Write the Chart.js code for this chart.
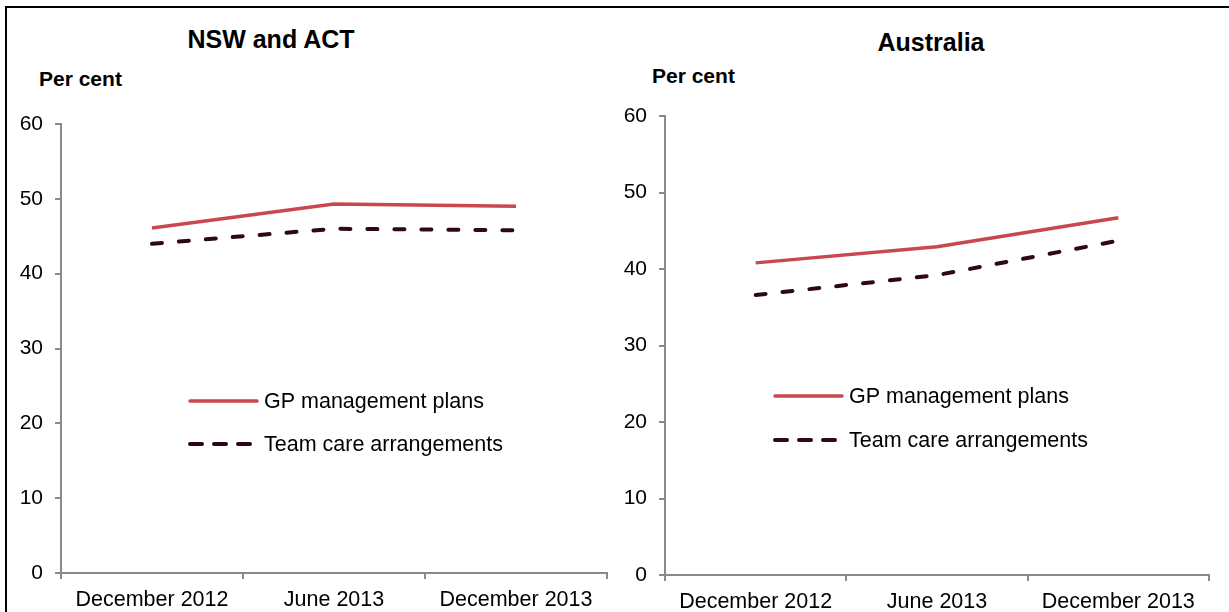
<!DOCTYPE html>
<html lang="en">
<head>
	<title>GP management plans and team care arrangements</title>
	<meta charset="utf-8">
	<script src="https://cdn.jsdelivr.net/npm/chart.js@4/dist/chart.umd.min.js"></script>
	<style type="text/css">
		html, body {
			margin: 0;
			padding: 0;
			background: #fff;
			overflow: hidden;
		}
		#page {
			position: relative;
			width: 1229px;
			height: 612px;
			font-family: "Liberation Sans", Arial, sans-serif;
		}
		#frame {
			position: absolute;
			left: 5px;
			top: 6px;
			width: 1240px;
			height: 620px;
			border-left: 2px solid #000;
			border-top: 2px solid #000;
		}
		canvas {
			position: absolute;
			top: 0;
		}
		.chart-title {
			position: absolute;
			font-weight: bold;
			font-size: 25px;
			line-height: 25px;
			white-space: nowrap;
			transform: translateX(-50%);
		}
		.unit {
			position: absolute;
			font-weight: bold;
			font-size: 21px;
			line-height: 21px;
			white-space: nowrap;
		}
	</style>
</head>
<body>
<div id="page">
	<div id="frame"></div>
	<div class="chart-title" style="left:271px; top:27px;">NSW and ACT</div>
	<div class="chart-title" style="left:931px; top:30px;">Australia</div>
	<div class="unit" style="left:39px; top:68px;">Per cent</div>
	<div class="unit" style="left:652px; top:65px;">Per cent</div>
	<canvas id="nsw-canvas" width="614" height="612" style="left:0px;"></canvas>
	<canvas id="aus-canvas" width="615" height="612" style="left:614px;"></canvas>
</div>
<script type="text/javascript">
	// survey periods
	var periods = ["December 2012", "June 2013", "December 2013"];
	var seriesNames = ["GP management plans", "Team care arrangements"];

	// per cent of patients, NSW and ACT
	var nswGpPlans = [46.1, 49.3, 49.0];
	var nswTeamCare = [44.0, 46.0, 45.8];

	// per cent of patients, Australia
	var ausGpPlans = [40.8, 42.9, 46.7];
	var ausTeamCare = [36.6, 39.2, 43.7];

	var yTicks = [0, 10, 20, 30, 40, 50, 60];

	var axisGrey = "#8a8a8a";
	var font = "'Liberation Sans', Arial, sans-serif";

	// legend drawn inside the plot area, under the lines
	var innerLegend = {
		id: "innerLegend",
		afterDatasetsDraw: function(chart, args, opts) {
			var ctx = chart.ctx;
			var area = chart.chartArea;
			chart.data.datasets.forEach(function(ds, i) {
				var x = area.left + opts.x;
				var y = area.top + opts.y + i * opts.rowGap;
				ctx.save();
				ctx.strokeStyle = ds.borderColor;
				ctx.lineWidth = ds.borderWidth;
				ctx.lineCap = "round";
				ctx.setLineDash(ds.borderDash ? [12, 12] : []);
				ctx.beginPath();
				ctx.moveTo(x + 2, y);
				ctx.lineTo(x + opts.lineLength, y);
				ctx.stroke();
				ctx.setLineDash([]);
				ctx.fillStyle = "#000";
				ctx.font = "21.5px " + font;
				ctx.textBaseline = "middle";
				ctx.fillText(ds.label, x + opts.lineLength + 7, y + 1);
				ctx.restore();
			});
		}
	};

	function drawPanel(canvasId, gpData, teamData, pad, xHeight, yWidth, legendPos) {
		var ctx = document.getElementById(canvasId).getContext("2d");
		return new Chart(ctx, {
			type: "line",
			data: {
				labels: periods,
				datasets: [{
					label: seriesNames[0],
					data: gpData,
					borderColor: "#c9484d",
					borderWidth: 3.5,
					pointRadius: 0,
					tension: 0
				}, {
					label: seriesNames[1],
					data: teamData,
					borderColor: "#2e0a0e",
					borderWidth: 4,
					borderDash: [10, 17],
					borderCapStyle: "round",
					pointRadius: 0,
					tension: 0
				}]
			},
			options: {
				responsive: false,
				animation: false,
				devicePixelRatio: 1,
				layout: {
					padding: pad
				},
				plugins: {
					legend: { display: false },
					title: { display: false },
					tooltip: { enabled: false },
					innerLegend: legendPos
				},
				scales: {
					x: {
						offset: true,
						grid: {
							display: true,
							offset: true,
							drawOnChartArea: false,
							drawTicks: true,
							tickLength: 6,
							color: axisGrey,
							lineWidth: 2
						},
						border: { color: axisGrey, width: 2 },
						ticks: {
							color: "#000",
							font: { family: font, size: 21.5 },
							padding: 8,
							maxRotation: 0
						},
						afterFit: function(scale) { scale.height = xHeight; }
					},
					y: {
						min: 0,
						max: 60,
						afterBuildTicks: function(scale) {
							scale.ticks = yTicks.map(function(v) { return { value: v }; });
						},
						grid: {
							display: true,
							drawOnChartArea: false,
							drawTicks: true,
							tickLength: 6,
							color: axisGrey,
							lineWidth: 2
						},
						border: { color: axisGrey, width: 2 },
						ticks: {
							color: "#000",
							font: { family: font, size: 21 },
							padding: 12
						},
						afterFit: function(scale) { scale.width = yWidth; }
					}
				}
			},
			plugins: [innerLegend]
		});
	}

	drawPanel("nsw-canvas", nswGpPlans, nswTeamCare,
		{ top: 124, right: 7, left: 0, bottom: 0 }, 39, 61,
		{ x: 127, y: 277, rowGap: 43, lineLength: 69 });

	drawPanel("aus-canvas", ausGpPlans, ausTeamCare,
		{ top: 116, right: 20, left: 0, bottom: 0 }, 37, 51,
		{ x: 108, y: 280, rowGap: 44, lineLength: 69 });
</script>
</body>
</html>
